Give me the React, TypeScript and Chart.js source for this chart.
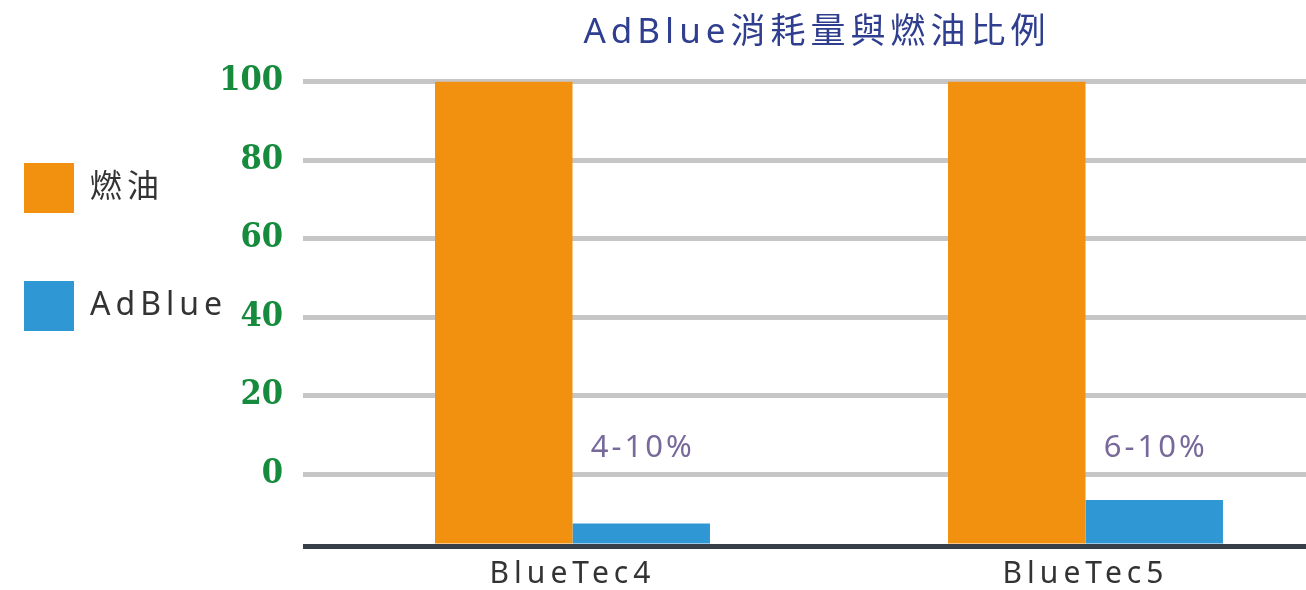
import React, { useEffect, useRef } from 'react';
import { Chart, registerables } from 'chart.js';

Chart.register(...registerables);

// ---- data ----
const categories = ['BlueTec4', 'BlueTec5'];
const seriesNames = ['燃油', 'AdBlue'];
const fuelValues = [100, 100];
const adblueValues = [-12.6, -6.6];
const adblueRangeLabels = ['4-10%', '6-10%'];
const rangeLabelValue = 6.5;
const yTickValues = [0, 20, 40, 60, 80, 100];
const yAxisMin = -18.3;
const yAxisMax = 100;
const titleText = 'AdBlue消耗量與燃油比例';

// ---- style ----
const ORANGE = '#f29110';
const BLUE = '#3097d5';
const GREEN = '#178b3d';
const TITLE_BLUE = '#2f3e8e';
const GRID_GRAY = '#c6c6c6';
const AXIS_DARK = '#363f48';
const RANGE_COLOR = '#77699a';
const TEXT_DARK = '#333333';

const CANVAS_W = 1386;
const CANVAS_H = 590;
const CANVAS_SHIFT = -44;
const PLOT_LEFT = 360;
const XAXIS_H = 44;
const TITLE_LEFT_EXTEND = 24;

const spacingPlugin = {
  id: 'spacingAndRanges',
  beforeUpdate(chart: any) {
    chart.ctx.letterSpacing = '5px';
  },
  afterLayout(chart: any) {
    if (chart.titleBlock) chart.titleBlock.left -= TITLE_LEFT_EXTEND;
  },
  beforeDraw(chart: any) {
    chart.ctx.letterSpacing = '5px';
  },
  afterDatasetsDraw(chart: any) {
    const ctx = chart.ctx;
    const meta = chart.getDatasetMeta(1);
    const y = chart.scales.y.getPixelForValue(rangeLabelValue);
    ctx.save();
    ctx.letterSpacing = '3px';
    ctx.font = '31px "Noto Sans"';
    ctx.fillStyle = RANGE_COLOR;
    ctx.textAlign = 'center';
    ctx.textBaseline = 'middle';
    meta.data.forEach((bar: any, i: number) => {
      ctx.fillText(adblueRangeLabels[i], bar.x + 1.5, y);
    });
    ctx.restore();
    ctx.letterSpacing = '0px';
  },
};

export default function App() {
  const ref = useRef<HTMLCanvasElement>(null);

  useEffect(() => {
    if (!ref.current) return;
    const chart = new Chart(ref.current, {
      type: 'bar',
      data: {
        labels: categories,
        datasets: [
          {
            label: seriesNames[0],
            data: fuelValues,
            backgroundColor: ORANGE,
            base: yAxisMin,
          } as any,
          {
            label: seriesNames[1],
            data: adblueValues,
            backgroundColor: BLUE,
            base: yAxisMin,
          } as any,
        ],
      },
      options: {
        responsive: false,
        maintainAspectRatio: false,
        animation: false,
        events: [],
        datasets: {
          bar: { categoryPercentage: 0.536, barPercentage: 1 },
        } as any,
        layout: { padding: 0 },
        plugins: {
          tooltip: { enabled: false },
          title: {
            display: true,
            text: titleText,
            fullSize: false,
            color: TITLE_BLUE,
            font: { family: '"Noto Sans", "Noto Sans CJK TC"', size: 35, weight: 'normal' },
            padding: { top: 12, bottom: 27.5 },
          } as any,
          legend: {
            position: 'left',
            align: 'start',
            title: {
              display: true,
              text: '',
              font: { size: 10 },
              padding: { top: 83, bottom: 0 },
            } as any,
            labels: {
              boxWidth: 50,
              boxHeight: 50,
              padding: 68,
              color: TEXT_DARK,
              font: { family: '"Noto Sans", "Noto Sans CJK TC"', size: 32 },
            },
          },
        },
        scales: {
          x: {
            grid: { display: false, drawTicks: false },
            border: { display: true, color: AXIS_DARK, width: 5, z: 1 } as any,
            ticks: {
              color: TEXT_DARK,
              padding: 10,
              font: { family: '"Noto Sans"', size: 30 },
            },
            afterFit: (scale: any) => {
              scale.height = XAXIS_H;
            },
          },
          y: {
            min: yAxisMin,
            max: yAxisMax,
            bounds: 'data',
            afterBuildTicks: (scale: any) => {
              scale.ticks = [yAxisMin, ...yTickValues].map((v) => ({ value: v }));
            },
            afterFit: (scale: any) => {
              const lw = scale.chart.legend ? scale.chart.legend.width : 0;
              scale.width = PLOT_LEFT - lw;
              // let the wide tick labels run past the narrow axis box
              scale._computeLabelArea = () => undefined;
            },
            border: { display: false },
            grid: {
              color: (c: any) => (c.tick && c.tick.value === yAxisMin ? AXIS_DARK : GRID_GRAY),
              lineWidth: 5,
              drawTicks: true,
              tickLength: 13,
            },
            ticks: {
              z: 1,
              padding: 20,
              color: GREEN,
              autoSkip: false,
              font: { family: '"DejaVu Serif Condensed", "DejaVu Serif", serif', size: 34, weight: 'bold' },
              callback: (v: any) => (Number(v) < yTickValues[0] ? '' : String(v)),
            },
          } as any,
        },
      },
      plugins: [spacingPlugin],
    } as any);
    return () => chart.destroy();
  }, []);

  return (
    <div
      style={{
        position: 'absolute',
        left: 0,
        top: 0,
        width: 1306,
        height: 590,
        overflow: 'hidden',
        background: '#ffffff',
      }}
    >
      <div style={{ position: 'absolute', left: CANVAS_SHIFT, top: 0, width: CANVAS_W, height: CANVAS_H }}>
        <canvas
          ref={ref}
          width={CANVAS_W}
          height={CANVAS_H}
          style={{ display: 'block', width: CANVAS_W, height: CANVAS_H }}
        />
      </div>
    </div>
  );
}
